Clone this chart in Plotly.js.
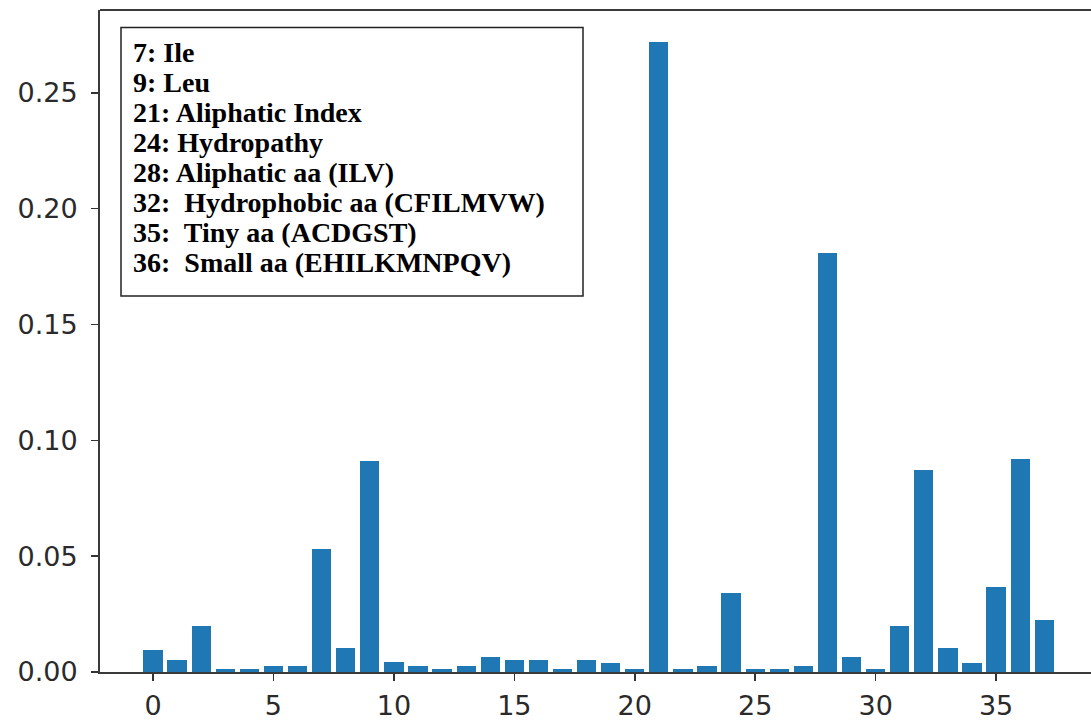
<!DOCTYPE html>
<html>
<head>
<meta charset="utf-8">
<script src="https://cdn.plot.ly/plotly-3.0.1.min.js"></script>
<style>html,body{margin:0;padding:0;overflow:hidden;background:#fff;}</style>
</head>
<body>
<div id="chart" style="width:1091px;height:722px;"></div>
<script>
// Feature indices
const featureIndex = [0,1,2,3,4,5,6,7,8,9,10,11,12,13,14,15,16,17,18,19,20,21,22,23,24,25,26,27,28,29,30,31,32,33,34,35,36,37];
// Importance values
const importance = [0.0094, 0.0053, 0.0197, 0.0013, 0.0013, 0.0027, 0.0027, 0.053, 0.0105, 0.091,
                    0.0042, 0.0027, 0.0013, 0.0027, 0.0066, 0.0053, 0.0053, 0.0013, 0.0053, 0.0040,
                    0.0013, 0.272, 0.0013, 0.0027, 0.0343, 0.0013, 0.0013, 0.0027, 0.181, 0.0066,
                    0.0013, 0.0197, 0.087, 0.0105, 0.0040, 0.0367, 0.092, 0.0223];
const xTickVals = [0,5,10,15,20,25,30,35];
const yTickVals = [0,0.05,0.10,0.15,0.20,0.25];
// Legend box lines
const legendLines = [
  "7: Ile",
  "9: Leu",
  "21: Aliphatic Index",
  "24: Hydropathy",
  "28: Aliphatic aa (ILV)",
  "32:  Hydrophobic aa (CFILMVW)",
  "35:  Tiny aa (ACDGST)",
  "36:  Small aa (EHILKMNPQV)"
];

const plotTop = 10, plotH = 662, plotL = 100, plotW = 991;
const annotations = legendLines.map((t, i) => ({
  text: t.replace(/  /g, '&nbsp; '),
  xref: 'paper', yref: 'paper',
  x: (131 - plotL) / plotW,
  y: 1 - (53 + i * 29.9 - plotTop) / plotH,
  xanchor: 'left', yanchor: 'middle',
  showarrow: false,
  font: {family: 'Liberation Serif, Times New Roman, serif', size: 28, color: '#000', weight: 'bold'}
}));

const data = [{
  type: 'bar',
  x: featureIndex,
  y: importance,
  width: 0.8,
  marker: {color: '#1f77b4', line: {width: 0}},
  hoverinfo: 'x+y'
}];

const axisFont = {family: 'DejaVu Sans, sans-serif', size: 27, color: '#2a2a2a'};

const layout = {
  width: 1091, height: 722,
  margin: {l: plotL, r: 0, t: plotTop, b: 50},
  paper_bgcolor: '#fff', plot_bgcolor: '#fff',
  showlegend: false,
  bargap: 0,
  xaxis: {
    range: [-2.2, 38.94],
    tickmode: 'array', tickvals: xTickVals, ticktext: xTickVals.map(String),
    ticks: 'outside', ticklen: 7, tickwidth: 1.5, tickcolor: '#333',
    showline: true, linecolor: '#3a3a3a', linewidth: 2,
    showgrid: false, zeroline: false,
    ticklabelstandoff: 2,
    tickfont: axisFont
  },
  yaxis: {
    range: [0, 0.2858],
    tickmode: 'array', tickvals: yTickVals, ticktext: yTickVals.map(v => v.toFixed(2)),
    ticks: 'outside', ticklen: 7, tickwidth: 1.5, tickcolor: '#333',
    showline: true, linecolor: '#3a3a3a', linewidth: 2,
    showgrid: false, zeroline: false,
    ticklabelstandoff: 8,
    tickfont: axisFont
  },
  shapes: [
    {type: 'line', xref: 'paper', yref: 'paper', x0: 0, x1: 1, y0: 1, y1: 1,
     line: {color: '#3a3a3a', width: 2}},
    {type: 'rect', xref: 'paper', yref: 'paper',
     x0: (121 - plotL) / plotW, x1: (583 - plotL) / plotW,
     y0: 1 - (296 - plotTop) / plotH, y1: 1 - (27.5 - plotTop) / plotH,
     line: {color: '#222', width: 1.5}, fillcolor: 'rgba(255,255,255,1)', layer: 'above'}
  ],
  annotations: annotations
};

Plotly.newPlot('chart', data, layout, {displayModeBar: false, staticPlot: true});
</script>
</body>
</html>
